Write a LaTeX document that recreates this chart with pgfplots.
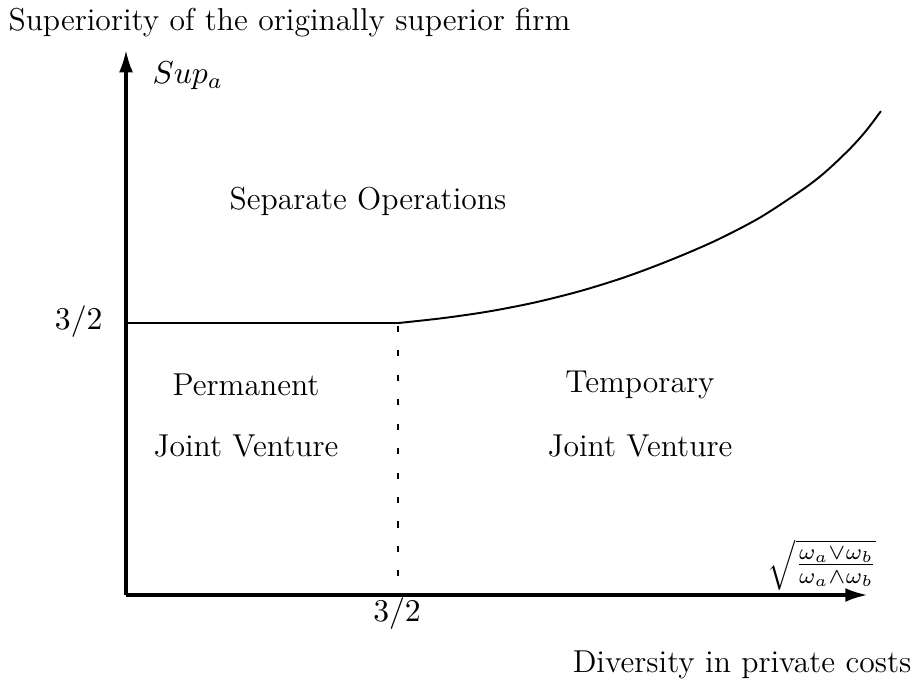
\RequirePackage{fix-cm}
\documentclass[border=0pt]{standalone}
\usepackage{pgfplots}
\pgfplotsset{compat=1.18}
\usetikzlibrary{arrows.meta}
\begin{document}
\begin{tikzpicture}[every node/.style={font=\fontsize{11.4}{13.5}\selectfont}]
\begin{axis}[
  scale only axis,
  width=330.12pt, height=248.4pt,
  xmin=-0.695, xmax=4.363, ymin=-0.524, ymax=3.282,
  axis lines=none,
  clip=false,
]
% axes
\addplot[line width=1.1pt, -{Latex[length=8pt,width=5pt]}] coordinates {(0,0) (4.09,0)};
\addplot[line width=1.1pt, -{Latex[length=8pt,width=5pt]}] coordinates {(0,0) (0,3.006)};
% flat boundary
\addplot[line width=0.7pt] coordinates {(0,1.5) (1.5,1.5)};
% dashed vertical
\addplot[line width=0.7pt, dash pattern=on 2.2pt off 6.6pt, dash phase=-1pt] coordinates {(1.5,1.5) (1.5,0)};
% curve
\addplot[line width=0.7pt, smooth] coordinates {
 (1.5,1.5) (1.75,1.5275) (2.0,1.5638) (2.25,1.6125) (2.5,1.675) (2.75,1.7525)
 (3.0,1.8463) (3.25,1.9538) (3.5,2.0838) (3.75,2.2488) (3.875,2.3488) (4.0,2.4688) (4.082,2.5606) (4.164,2.669)};
% labels
\node[anchor=base west, inner sep=0] at (axis cs:-0.651,3.116) {Superiority of the originally superior firm};
\node[anchor=base west, inner sep=0] at (axis cs:0.1434,2.819) {$Sup_a$};
\node[anchor=east, inner sep=0] at (axis cs:-0.127,1.506) {$3/2$};
\node[anchor=center, inner sep=0] at (axis cs:1.495,-0.105) {$3/2$};
\node[anchor=base east, inner sep=0] at (axis cs:4.335,-0.425) {Diversity in private costs};
\node[anchor=center, inner sep=0] at (axis cs:1.335,2.173) {Separate Operations};
\node[anchor=center, inner sep=0] at (axis cs:0.662,1.158) {Permanent};
\node[anchor=center, inner sep=0] at (axis cs:0.662,0.822) {Joint Venture};
\node[anchor=center, inner sep=0] at (axis cs:2.835,1.158) {Temporary};
\node[anchor=center, inner sep=0] at (axis cs:2.835,0.822) {Joint Venture};
\node[anchor=center, inner sep=0] at (axis cs:3.839,0.165) {$\sqrt{\frac{\omega_a\vee\omega_b}{\omega_a\wedge\omega_b}}$};
\end{axis}
\pgfresetboundingbox
\path[use as bounding box] (current axis.south west) rectangle (current axis.north east);
\end{tikzpicture}
\end{document}
